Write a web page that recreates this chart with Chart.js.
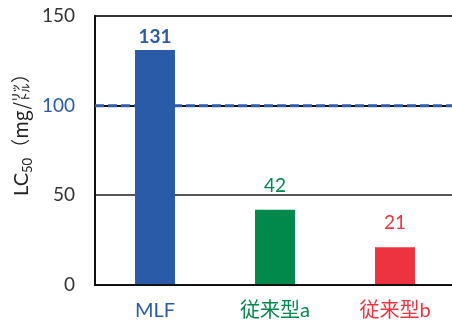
<!DOCTYPE html>
<html>
<head>
<meta charset="utf-8">
<script src="https://cdn.jsdelivr.net/npm/chart.js@4"></script>
<style>
  html, body { margin: 0; padding: 0; background: #fff; }
  #wrap { width: 452px; height: 327px; overflow: hidden; position: relative; }
  #box { width: 460px; height: 327px; }
</style>
</head>
<body>
<div id="wrap"><div id="box"><canvas id="lcChart"></canvas></div></div>
<script>
const categories = ['MLF', '従来型a', '従来型b'];
const lc50Values = [131, 42, 21];
const yTicks = [0, 50, 100, 150];
const referenceLevel = 100;

const barColors = ['#2A5BA8', '#00894A', '#EE3340'];
const FONT = 'Lato, "Noto Sans CJK JP", sans-serif';

// value labels above each bar (first one is bold)
const valueLabels = {
    id: 'valueLabels',
    afterDatasetsDraw(chart) {
        const ctx = chart.ctx;
        const meta = chart.getDatasetMeta(0);
        const gaps = [7, 17, 18];
        ctx.save();
        ctx.textAlign = 'center';
        ctx.textBaseline = 'bottom';
        meta.data.forEach((bar, i) => {
            ctx.fillStyle = barColors[i];
            ctx.font = (i === 0 ? 'bold ' : '') + '19px ' + FONT;
            ctx.fillText(String(lc50Values[i]), bar.x, bar.y - gaps[i] + 3);
        });
        ctx.restore();
    }
};

// blue dashed reference line at 100
const refLine = {
    id: 'refLine',
    beforeDatasetsDraw(chart) {
        const ctx = chart.ctx;
        const y = chart.scales.y.getPixelForValue(referenceLevel);
        const { left, right } = chart.chartArea;
        ctx.save();
        ctx.strokeStyle = '#2F5DAA';
        ctx.lineWidth = 3;
        ctx.setLineDash([9, 4]);
        ctx.beginPath();
        ctx.moveTo(left, y);
        ctx.lineTo(right, y);
        ctx.stroke();
        ctx.restore();
    }
};

// rotated y axis title with subscript
const yTitle = {
    id: 'yTitle',
    afterDraw(chart) {
        const ctx = chart.ctx;
        const parts = [
            { t: 'LC', f: '20px ' + FONT, dy: 0 },
            { t: '50', f: '13px ' + FONT, dy: 4 },
            { t: '（mg/㍑）', f: '19px "Noto Sans CJK JP", sans-serif', dy: 0 }
        ];
        ctx.save();
        let total = 0;
        parts.forEach(p => { ctx.font = p.f; p.w = ctx.measureText(p.t).width; total += p.w; });
        ctx.translate(28, 130);
        ctx.rotate(-Math.PI / 2);
        ctx.fillStyle = '#222';
        ctx.textBaseline = 'alphabetic';
        let x = -total / 2;
        parts.forEach(p => {
            ctx.font = p.f;
            ctx.fillText(p.t, x, p.dy);
            x += p.w;
        });
        ctx.restore();
    }
};

new Chart(document.getElementById('lcChart'), {
    type: 'bar',
    data: {
        labels: categories,
        datasets: [{
            data: lc50Values,
            backgroundColor: barColors,
            categoryPercentage: 1,
            barPercentage: 0.333
        }]
    },
    options: {
        responsive: true,
        maintainAspectRatio: false,
        animation: false,
        layout: { padding: { top: 16, right: 5, left: 0, bottom: 0 } },
        plugins: { legend: { display: false }, tooltip: { enabled: false } },
        scales: {
            x: {
                grid: { display: false, drawTicks: false },
                border: { color: '#111', width: 2 },
                ticks: {
                    padding: 14,
                    font: { size: 20, family: FONT },
                    color: (c) => barColors[c.index]
                },
                afterFit(scale) { scale.height = 42; }
            },
            y: {
                min: 0,
                max: 150,
                afterBuildTicks(scale) { scale.ticks = yTicks.map(v => ({ value: v })); },
                grid: {
                    drawTicks: false,
                    lineWidth: 2,
                    color: (c) => c.tick && c.tick.value === 50 ? '#555' : c.tick && c.tick.value === 100 ? '#111' : '#333'
                },
                border: { color: '#111', width: 2 },
                ticks: {
                    padding: 20,
                    font: { size: 19, family: FONT },
                    color: (c) => c.tick && c.tick.value === referenceLevel ? '#2A5BA8' : '#333'
                },
                afterFit(scale) {
                    scale.width = 95;
                    scale.paddingTop = 0;
                    scale.paddingBottom = 0;
                }
            }
        }
    },
    plugins: [refLine, valueLabels, yTitle]
});
</script>
</body>
</html>
